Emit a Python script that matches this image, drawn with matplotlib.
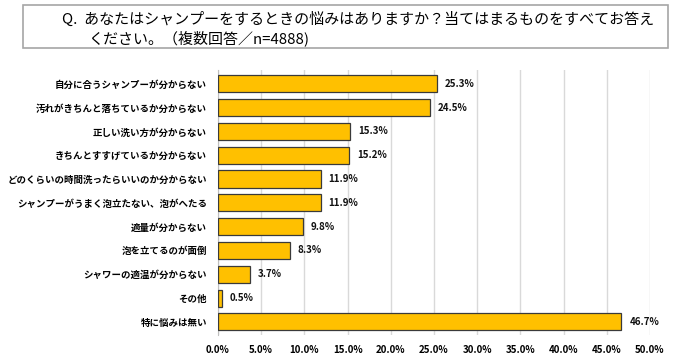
import matplotlib.pyplot as plt
from matplotlib.patches import Rectangle

plt.rcParams['font.family'] = ['Noto Sans CJK JP', 'DejaVu Sans']

categories = [
    "自分に合うシャンプーが分からない",
    "汚れがきちんと落ちているか分からない",
    "正しい洗い方が分からない",
    "きちんとすすげているか分からない",
    "どのくらいの時間洗ったらいいのか分からない",
    "シャンプーがうまく泡立たない、泡がへたる",
    "適量が分からない",
    "泡を立てるのが面倒",
    "シャワーの適温が分からない",
    "その他",
    "特に悩みは無い",
]
values = [25.3, 24.5, 15.3, 15.2, 11.9, 11.9, 9.8, 8.3, 3.7, 0.5, 46.7]
xticks = [0, 5, 10, 15, 20, 25, 30, 35, 40, 45, 50]

title_line1 = "Q.  あなたはシャンプーをするときの悩みはありますか？当てはまるものをすべてお答え"
title_line2 = "ください。（複数回答／n=4888)"

fig = plt.figure(figsize=(6.73, 3.58), dpi=100)
ax = fig.add_axes([218 / 673, 1 - 335 / 358, 432 / 673, 265 / 358])

ypos = list(range(len(categories)))
ax.barh(ypos, values, height=0.72, color="#FFC000", edgecolor="#3a3a3a",
        linewidth=0.9, zorder=3)
for y, v in zip(ypos, values):
    ax.text(v + 0.9, y, f"{v:.1f}%", va="center", ha="left",
            fontsize=7, fontweight="bold", color="#111111")

ax.set_xlim(0, 50)
ax.set_ylim(len(categories) - 0.45, -0.58)
ax.set_yticks(ypos)
ax.set_yticklabels(categories, fontsize=6.8, fontweight="bold")
ax.set_xticks(xticks)
ax.set_xticklabels([f"{t:.1f}%" for t in xticks], fontsize=7, fontweight="bold")
ax.tick_params(length=0, pad=8)
ax.tick_params(axis="x", pad=7)
ax.grid(axis="x", color="#d9d9d9", linewidth=1, zorder=0)
for s in ["top", "right", "bottom"]:
    ax.spines[s].set_visible(False)
ax.spines["left"].set_color("#bfbfbf")

# question box
fig.patches.append(Rectangle((23 / 673, 1 - 48 / 358), 645 / 673, 43 / 358,
                             transform=fig.transFigure, fill=False,
                             edgecolor="#a6a6a6", linewidth=1.2))
fig.text(62 / 673, 1 - 19 / 358, title_line1, fontsize=10.8, va="center", ha="left")
fig.text(88 / 673, 1 - 38 / 358, title_line2, fontsize=10.8, va="center", ha="left")

fig.savefig("out.png", dpi=100)
